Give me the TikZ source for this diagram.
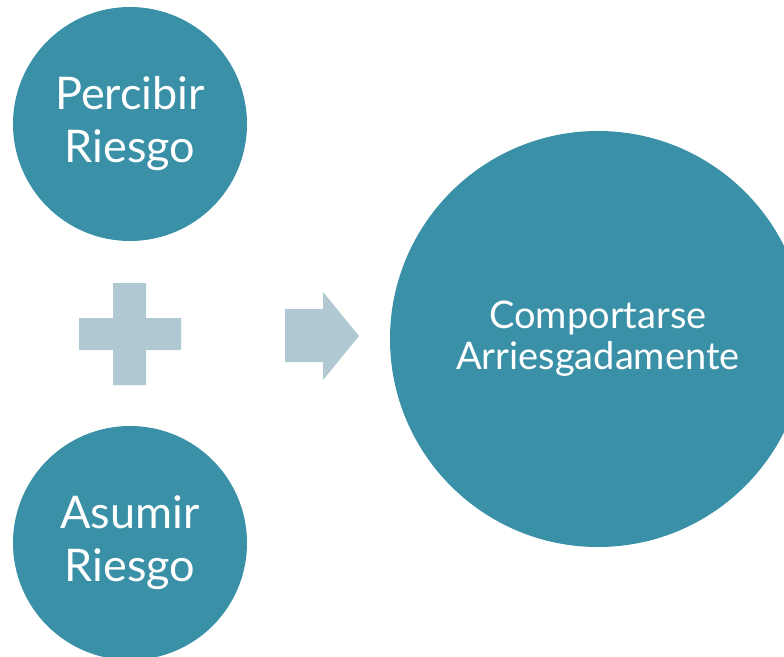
\documentclass[tikz,border=0pt]{standalone}
\usepackage{fontspec}
\setmainfont{Lato}
\definecolor{tealc}{RGB}{58,144,166}
\definecolor{palec}{RGB}{175,200,210}
\begin{document}
\begin{tikzpicture}[x=1pt, y=-1pt,
  bubble/.style={circle, fill=tealc, text=white, inner sep=0pt, align=center},
  small/.style={bubble, minimum size=234pt, font=\fontsize{45}{53}\selectfont},
  big/.style={bubble, minimum size=416pt, font=\fontsize{38}{41}\selectfont}]
  \useasboundingbox (0,0) rectangle (784,656);
  \clip (0,0) rectangle (784,656);
  \node[small] (perc) at (130,124) {Percibir\\Riesgo};
  \node[small] (asum) at (130,543) {Asumir\\Riesgo};
  \node[big] (comp) at (598,339) {Comportarse\\Arriesgadamente};
  % plus sign
  \fill[palec] (113,283) -- (146,283) -- (146,318) -- (181,318) -- (181,350)
    -- (146,350) -- (146,385) -- (113,385) -- (113,350) -- (79,350)
    -- (79,318) -- (113,318) -- cycle;
  % arrow
  \fill[palec] (285,309) -- (323,309) -- (323,292) -- (359,336) -- (323,380)
    -- (323,362) -- (285,362) -- cycle;
\end{tikzpicture}
\end{document}
